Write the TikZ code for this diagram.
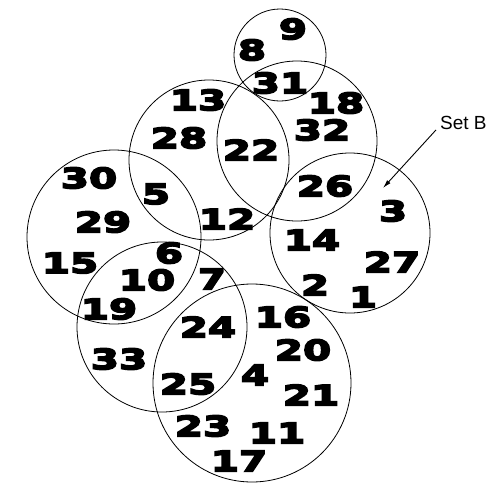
\documentclass[tikz,border=0pt]{standalone}
\usepackage{fontspec}
\setmainfont{Liberation Sans}
\newfontfamily\numfont{DejaVu Sans Bold}[FakeStretch=1.45,FakeBold=6]
\usetikzlibrary{arrows.meta}

\begin{document}
\begin{tikzpicture}[
  x=1pt, y=-1pt,
  num/.style={inner sep=0pt, font=\numfont\fontsize{28}{28}\selectfont},
  ring/.style={draw, line width=0.8pt},
  ar/.style={-{Latex[length=3mm,width=1.6mm]}, line width=0.9pt}
]
\useasboundingbox (0,0) rectangle (490,493);
% circles
\draw[ring] (280,55)  circle (46);
\draw[ring] (297,141) circle (80);
\draw[ring] (209,160) circle (80);
\draw[ring] (114,237) circle (87);
\draw[ring] (350,233) circle (80);
\draw[ring] (162,327) circle (85);
\draw[ring] (252,383) circle (99);
% numbers
\node[num] (n9)  at (293,29)  {9};
\node[num] (n8)  at (252,50)  {8};
\node[num] (n31) at (280,83)  {31};
\node[num] (n13) at (198,100) {13};
\node[num] (n18) at (336,103) {18};
\node[num] (n28) at (179,138) {28};
\node[num] (n32) at (322,130) {32};
\node[num] (n22) at (251,150) {22};
\node[num] (n30) at (89,178)  {30};
\node[num] (n26) at (325,186) {26};
\node[num] (n5)  at (156,194) {5};
\node[num] (n3)  at (393,211) {3};
\node[num] (n29) at (103,222) {29};
\node[num] (n12) at (227,219) {12};
\node[num] (n14) at (312,240) {14};
\node[num] (n6)  at (169,253) {6};
\node[num] (n15) at (70,263)  {15};
\node[num] (n27) at (392,262) {27};
\node[num] (n10) at (147,280) {10};
\node[num] (n7)  at (212,279) {7};
\node[num] (n2)  at (315,285) {2};
\node[num] (n1)  at (363,297) {1};
\node[num] (n19) at (109,309) {19};
\node[num] (n16) at (283,317) {16};
\node[num] (n24) at (208,327) {24};
\node[num] (n20) at (303,350) {20};
\node[num] (n33) at (119,359) {33};
\node[num] (n4)  at (255,375) {4};
\node[num] (n25) at (188,384) {25};
\node[num] (n21) at (311,395) {21};
\node[num] (n23) at (203,426) {23};
\node[num] (n11) at (277,433) {11};
\node[num] (n17) at (239,461) {17};
% label
\node[anchor=west, inner sep=0pt, font=\fontsize{19}{19}\selectfont] (setb) at (440,123) {Set B};
\coordinate (tip) at (383,188);
\draw[ar] (setb.south west) ++(-4,0) coordinate (tail) (tail) -- (tip);
\end{tikzpicture}
\end{document}
